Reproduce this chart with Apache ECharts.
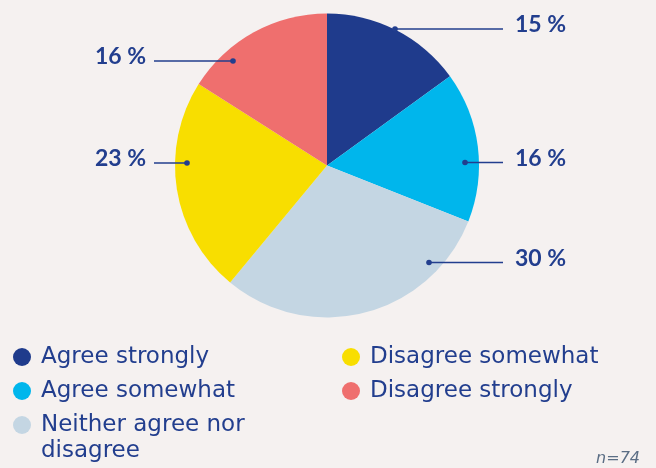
<!DOCTYPE html>
<html>
<head>
<meta charset="utf-8">
<script src="https://cdn.jsdelivr.net/npm/echarts@6/dist/echarts.min.js"></script>
<style>
  html, body { margin: 0; padding: 0; background: #f5f1f0; }
  #chart { width: 656px; height: 468px; }
</style>
</head>
<body>
<div id="chart"></div>
<script>
// Survey answers (percent of respondents)
const categories = ['Agree strongly', 'Agree somewhat', 'Neither agree nor disagree', 'Disagree somewhat', 'Disagree strongly'];
const shares = [15, 16, 30, 23, 16];
const sampleNote = 'n=74';

const sliceColors = ['#1f3b8c', '#00b6ec', '#c4d6e3', '#f8de00', '#ef6f6e'];
const ink = '#223e8e';

// Callout placement per slice: side of the text, y of the leader line, x of the inner dot
const callouts = [
  { side: 'right', lineY: 29, dotX: 395 },
  { side: 'right', lineY: 162.5, dotX: 465 },
  { side: 'right', lineY: 262.5, dotX: 429 },
  { side: 'left', lineY: 163, dotX: 187 },
  { side: 'left', lineY: 61, dotX: 233 }
];
const rightLineEnd = 503, rightTextX = 515;
const leftLineStart = 154, leftTextX = 146;

const chart = echarts.init(document.getElementById('chart'));

const legendText = {
  fontFamily: 'DejaVu Sans',
  fontSize: 23,
  lineHeight: 26,
  color: ink,
  padding: [0, 0, 0, 5]
};
const legendBase = {
  orient: 'vertical', padding: 0, height: 300,
  icon: 'circle', itemWidth: 18, itemHeight: 18, itemGap: 8,
  selectedMode: false,
  textStyle: legendText
};

// leader lines and their inner dots
const leaderGraphics = [];
callouts.forEach(c => {
  const endX = c.side === 'right' ? rightLineEnd : leftLineStart;
  leaderGraphics.push({
    type: 'line', z: 100,
    shape: { x1: c.dotX, y1: c.lineY, x2: endX, y2: c.lineY },
    style: { stroke: ink, lineWidth: 1.5 }
  });
  leaderGraphics.push({
    type: 'circle', z: 101,
    shape: { cx: c.dotX, cy: c.lineY, r: 2.8 },
    style: { fill: ink }
  });
});

chart.setOption({
  backgroundColor: '#f5f1f0',
  animation: false,
  title: {
    text: sampleNote,
    right: 16,
    bottom: 1,
    padding: 0,
    textStyle: { fontFamily: 'DejaVu Sans', fontStyle: 'italic', fontWeight: 'normal', fontSize: 16, color: '#5b6e85' }
  },
  legend: [
    Object.assign({}, legendBase, { data: categories.slice(0, 2), left: 13, top: 344 }),
    Object.assign({}, legendBase, {
      data: [categories[2]], left: 13, top: 386,
      // leading blank line keeps the first line of the wrapped label level with its icon
      formatter: () => '\nNeither agree nor\ndisagree'
    }),
    Object.assign({}, legendBase, { data: categories.slice(3), left: 342, top: 344 })
  ],
  graphic: leaderGraphics,
  series: [{
    type: 'pie',
    center: [327, 165.5],
    radius: 152,
    startAngle: 90,
    clockwise: true,
    avoidLabelOverlap: false,
    color: sliceColors,
    itemStyle: { borderWidth: 0 },
    emphasis: { disabled: true },
    label: {
      show: true,
      position: 'outside',
      formatter: p => p.value + ' %',
      fontFamily: 'Lato',
      fontWeight: 'bold',
      fontSize: 23,
      color: ink
    },
    labelLine: { show: false },
    labelLayout: params => {
      const c = callouts[params.dataIndex];
      return c.side === 'right'
        ? { x: rightTextX, y: c.lineY - 4, align: 'left', verticalAlign: 'middle' }
        : { x: leftTextX, y: c.lineY - 4, align: 'right', verticalAlign: 'middle' };
    },
    data: categories.map((name, i) => ({ name, value: shares[i] }))
  }]
});
</script>
</body>
</html>
